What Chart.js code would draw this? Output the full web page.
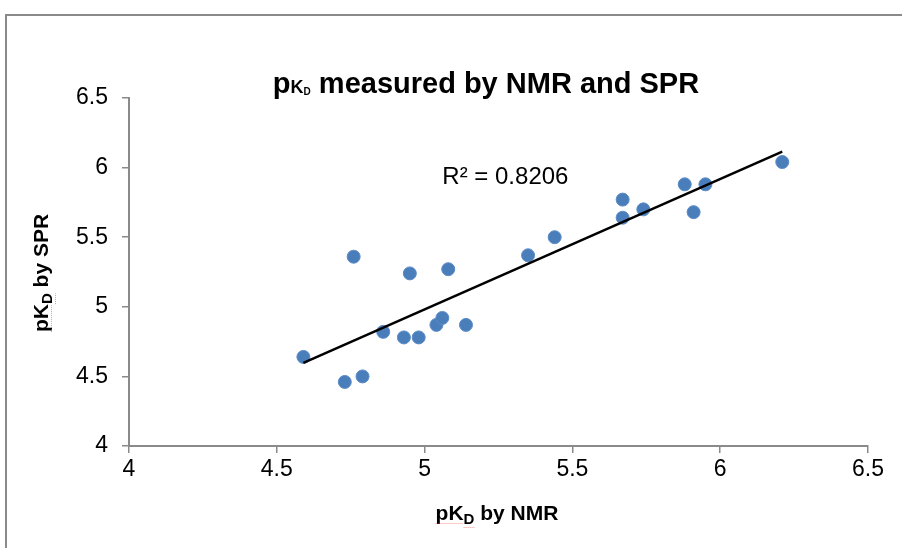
<!DOCTYPE html>
<html>
<head>
<meta charset="utf-8">
<script src="https://cdn.jsdelivr.net/npm/chart.js@4"></script>
<style>
  html, body { margin: 0; padding: 0; background: #fff; }
  #wrap { width: 902px; height: 548px; position: relative; }
</style>
</head>
<body>
<div id="wrap"><canvas id="myScatter" width="902" height="548"></canvas></div>
<script>
// values
var nmrValues = [4.59, 4.73, 4.79, 4.76, 4.86, 4.93, 4.98, 4.95, 5.04, 5.06, 5.08, 5.14,
                 5.35, 5.44, 5.67, 5.67, 5.74, 5.88, 5.95, 5.91, 6.21];
var sprValues = [4.64, 4.46, 4.50, 5.36, 4.82, 4.78, 4.78, 5.24, 4.87, 4.92, 5.27, 4.87,
                 5.37, 5.50, 5.77, 5.64, 5.70, 5.88, 5.88, 5.68, 6.04];
var tickValues = [4, 4.5, 5, 5.5, 6, 6.5];
var rSquaredLabel = 'R\u00b2 = 0.8206';

var FONT = '"Liberation Sans", Arial, sans-serif';

var points = [];
nmrValues.forEach(function (x, i) {
    points.push({x: x, y: sprValues[i]});
});

// least squares trend line, drawn between smallest and largest x
function linearFit(xs, ys) {
    var n = xs.length, sx = 0, sy = 0, sxx = 0, sxy = 0;
    for (var i = 0; i < n; i++) {
        sx += xs[i]; sy += ys[i];
        sxx += xs[i] * xs[i]; sxy += xs[i] * ys[i];
    }
    var slope = (n * sxy - sx * sy) / (n * sxx - sx * sx);
    return {slope: slope, intercept: (sy - slope * sx) / n};
}
var fit = linearFit(nmrValues, sprValues);
var xMin = Math.min.apply(null, nmrValues);
var xMax = Math.max.apply(null, nmrValues);
var trendPoints = [
    {x: xMin, y: fit.intercept + fit.slope * xMin},
    {x: xMax, y: fit.intercept + fit.slope * xMax}
];

// draw a run of text pieces (for the subscript D)
function drawParts(ctx, parts, x, y, align) {
    var total = 0;
    parts.forEach(function (p) { ctx.font = p.font; p.w = ctx.measureText(p.t).width; total += p.w; });
    var cx = align === 'center' ? x - total / 2 : x;
    ctx.textAlign = 'left';
    ctx.textBaseline = 'alphabetic';
    parts.forEach(function (p) {
        ctx.font = p.font;
        ctx.fillText(p.t, cx, y + (p.dy || 0));
        p.x0 = cx;
        cx += p.w;
    });
    return parts;
}

function squiggle(ctx, x0, x1, y) {
    ctx.save();
    ctx.strokeStyle = 'rgba(230,80,80,0.6)';
    ctx.lineWidth = 1;
    ctx.setLineDash([1, 1]);
    ctx.beginPath();
    ctx.moveTo(x0, y + 0.5);
    ctx.lineTo(x1, y + 0.5);
    ctx.stroke();
    ctx.restore();
}

var labelsPlugin = {
    id: 'labels',
    afterDraw: function (chart) {
        var ctx = chart.ctx;
        ctx.save();
        // outer frame of the chart object
        ctx.strokeStyle = '#8a8a8a';
        ctx.lineWidth = 2;
        ctx.beginPath();
        ctx.moveTo(6, 548);
        ctx.lineTo(6, 15);
        ctx.lineTo(902, 15);
        ctx.stroke();

        ctx.fillStyle = '#000';
        // chart title
        drawParts(ctx, [
            {t: 'p', font: 'bold 29px ' + FONT},
            {t: 'K', font: 'bold 18px ' + FONT},
            {t: 'D', font: 'bold 10px ' + FONT, dy: 2},
            {t: ' measured by NMR and SPR', font: 'bold 29px ' + FONT}
        ], 486, 93, 'center');

        // x axis title
        var xp = drawParts(ctx, [
            {t: 'pK', font: 'bold 21px ' + FONT},
            {t: 'D', font: 'bold 15px ' + FONT, dy: 4},
            {t: ' by NMR', font: 'bold 21px ' + FONT}
        ], 497, 520, 'center');
        squiggle(ctx, xp[0].x0, xp[0].x0 + xp[0].w, 523);
        squiggle(ctx, xp[1].x0, xp[1].x0 + xp[1].w, 527);

        // y axis title
        ctx.save();
        ctx.translate(48, 273);
        ctx.rotate(-Math.PI / 2);
        ctx.fillStyle = '#000';
        var yp = drawParts(ctx, [
            {t: 'pK', font: 'bold 21px ' + FONT},
            {t: 'D', font: 'bold 15px ' + FONT, dy: 4},
            {t: ' by SPR', font: 'bold 21px ' + FONT}
        ], 0, 0, 'center');
        squiggle(ctx, yp[0].x0, yp[0].x0 + yp[0].w, 3);
        squiggle(ctx, yp[1].x0, yp[1].x0 + yp[1].w, 7);
        ctx.restore();

        // R squared label
        var xs = chart.scales.x, ys = chart.scales.y;
        ctx.font = '24px ' + FONT;
        ctx.fillStyle = '#000';
        ctx.textAlign = 'left';
        ctx.textBaseline = 'middle';
        ctx.fillText(rSquaredLabel, xs.getPixelForValue(5.06), ys.getPixelForValue(5.93));
        ctx.restore();
    }
};

function tickText(v) { return String(v); }

var ctx = document.getElementById('myScatter');
var myChart = new Chart(ctx, {
    type: 'scatter',
    data: {
        datasets: [{
            label: 'pKD',
            data: points,
            backgroundColor: '#4a7ebb',
            borderColor: '#5b8bc6',
            borderWidth: 1,
            pointRadius: 6.5,
            order: 1
        }, {
            label: 'Linear',
            type: 'line',
            data: trendPoints,
            borderColor: '#000',
            borderWidth: 2.5,
            pointRadius: 0,
            fill: false,
            order: 0
        }]
    },
    options: {
        responsive: false,
        animation: false,
        events: [],
        layout: {padding: {left: 0, right: 34, top: 98, bottom: 0}},
        plugins: {
            legend: {display: false},
            title: {display: false},
            tooltip: {enabled: false}
        },
        scales: {
            x: {
                type: 'linear',
                min: 4, max: 6.5,
                afterBuildTicks: function (s) { s.ticks = tickValues.map(function (v) { return {value: v}; }); },
                afterFit: function (s) { s.height = 102; },
                grid: {drawOnChartArea: false, drawTicks: true, tickLength: 7, color: '#8a8a8a', lineWidth: 1.5},
                border: {color: '#8a8a8a', width: 2},
                ticks: {color: '#000', font: {family: FONT, size: 23}, padding: 3, maxRotation: 0, callback: tickText}
            },
            y: {
                type: 'linear',
                min: 4, max: 6.5,
                afterBuildTicks: function (s) { s.ticks = tickValues.map(function (v) { return {value: v}; }); },
                afterFit: function (s) { s.width = 129; },
                grid: {drawOnChartArea: false, drawTicks: true, tickLength: 7, color: '#8a8a8a', lineWidth: 1.5},
                border: {color: '#8a8a8a', width: 2},
                ticks: {color: '#000', font: {family: FONT, size: 23}, padding: 14, callback: tickText}
            }
        }
    },
    plugins: [labelsPlugin]
});
</script>
</body>
</html>
